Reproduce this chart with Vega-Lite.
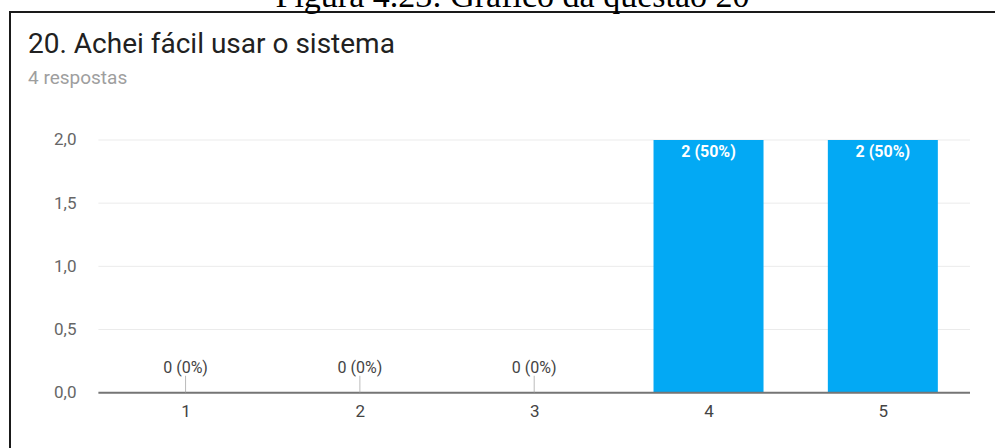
{
  "$schema": "https://vega.github.io/schema/vega-lite/v6.json",
  "width": 990,
  "height": 448,
  "autosize": {"type": "none"},
  "padding": {"left": 10, "top": 12, "right": -5, "bottom": -12},
  "background": "white",
  "config": {
    "view": {"stroke": "#1a1a1a", "strokeWidth": 2},
    "font": "Roboto"
  },
  "title": {
    "text": "20. Achei fácil usar o sistema",
    "subtitle": "4 respostas",
    "anchor": "start",
    "frame": "group",
    "orient": "top",
    "offset": -109,
    "dx": 18,
    "font": "Roboto",
    "fontSize": 28,
    "fontWeight": "normal",
    "color": "#212121",
    "subtitleFont": "Roboto",
    "subtitleFontSize": 19,
    "subtitleColor": "#9e9e9e",
    "subtitlePadding": 10
  },
  "datasets": {
    "respostas": [
      {"opcao": 1, "contagem": 0, "rotulo": "0 (0%)"},
      {"opcao": 2, "contagem": 0, "rotulo": "0 (0%)"},
      {"opcao": 3, "contagem": 0, "rotulo": "0 (0%)"},
      {"opcao": 4, "contagem": 2, "rotulo": "2 (50%)"},
      {"opcao": 5, "contagem": 2, "rotulo": "2 (50%)"}
    ],
    "grade": [
      {"valor": 0},
      {"valor": 0.5},
      {"valor": 1},
      {"valor": 1.5},
      {"valor": 2}
    ]
  },
  "resolve": {"axis": {"x": "independent", "y": "independent"}},
  "layer": [
    {
      "data": {"name": "grade"},
      "transform": [{"filter": "datum.valor > 0"}],
      "mark": {"type": "rule", "color": "#ebebeb", "strokeWidth": 1},
      "encoding": {
        "y": {"field": "valor", "type": "quantitative", "scale": {"domain": [-0.5327, 3.013], "nice": false, "zero": false}, "axis": null},
        "x": {"datum": 0.5, "type": "quantitative", "scale": {"domain": [0.0216, 5.6434], "nice": false, "zero": false}, "axis": null},
        "x2": {"datum": 5.5}
      }
    },
    {
      "data": {"name": "respostas"},
      "transform": [{"filter": "datum.contagem > 0"}],
      "mark": {"type": "bar", "size": 110, "color": "#03a9f4"},
      "encoding": {
        "x": {
          "field": "opcao", "type": "quantitative",
          "scale": {"domain": [0.0216, 5.6434], "nice": false, "zero": false},
          "axis": {
            "values": [1, 2, 3, 4, 5], "format": "d", "grid": false, "domain": false,
            "ticks": false, "tickSize": 0, "labelPadding": 0, "offset": -57,
            "labelFont": "Roboto", "labelFontSize": 17, "labelColor": "#444444", "title": null
          }
        },
        "y": {
          "field": "contagem", "type": "quantitative",
          "scale": {"domain": [-0.5327, 3.013], "nice": false, "zero": false},
          "axis": {
            "values": [0, 0.5, 1, 1.5, 2],
            "labelExpr": "replace(format(datum.value, '.1f'), '.', ',')",
            "grid": false, "domain": false, "ticks": false, "tickSize": 0,
            "labelPadding": 0, "offset": -66,
            "labelFont": "Roboto", "labelFontSize": 17, "labelColor": "#666666",
            "title": "Figura 4.23: Gráfico da questão 20",
            "titleAngle": 0, "titleX": 436, "titleY": -6,
            "titleAlign": "center", "titleBaseline": "alphabetic",
            "titleFont": "Liberation Serif", "titleFontSize": 34,
            "titleFontWeight": "normal", "titleColor": "#000000"
          }
        },
        "y2": {"datum": 0}
      }
    },
    {
      "data": {"name": "grade"},
      "transform": [{"filter": "datum.valor == 0"}],
      "mark": {"type": "rule", "color": "#757575", "strokeWidth": 2},
      "encoding": {
        "y": {"field": "valor", "type": "quantitative", "scale": {"domain": [-0.5327, 3.013], "nice": false, "zero": false}, "axis": null},
        "x": {"datum": 0.5, "type": "quantitative", "scale": {"domain": [0.0216, 5.6434], "nice": false, "zero": false}, "axis": null},
        "x2": {"datum": 5.5}
      }
    },
    {
      "data": {"name": "respostas"},
      "transform": [{"filter": "datum.contagem == 0"}],
      "mark": {"type": "tick", "orient": "vertical", "size": 17, "thickness": 1, "color": "#9e9e9e", "yOffset": -8.5},
      "encoding": {
        "x": {"field": "opcao", "type": "quantitative", "scale": {"domain": [0.0216, 5.6434], "nice": false, "zero": false}, "axis": null},
        "y": {"field": "contagem", "type": "quantitative", "scale": {"domain": [-0.5327, 3.013], "nice": false, "zero": false}, "axis": null}
      }
    },
    {
      "data": {"name": "respostas"},
      "transform": [{"filter": "datum.contagem == 0"}],
      "mark": {"type": "text", "dy": -25, "fontSize": 16, "font": "Roboto", "color": "#444444", "baseline": "middle"},
      "encoding": {
        "x": {"field": "opcao", "type": "quantitative", "scale": {"domain": [0.0216, 5.6434], "nice": false, "zero": false}, "axis": null},
        "y": {"field": "contagem", "type": "quantitative", "scale": {"domain": [-0.5327, 3.013], "nice": false, "zero": false}, "axis": null},
        "text": {"field": "rotulo"}
      }
    },
    {
      "data": {"name": "respostas"},
      "transform": [{"filter": "datum.contagem > 0"}],
      "mark": {"type": "text", "dy": 12, "fontSize": 16, "font": "Roboto", "fontWeight": "bold", "color": "white", "baseline": "middle"},
      "encoding": {
        "x": {"field": "opcao", "type": "quantitative", "scale": {"domain": [0.0216, 5.6434], "nice": false, "zero": false}, "axis": null},
        "y": {"field": "contagem", "type": "quantitative", "scale": {"domain": [-0.5327, 3.013], "nice": false, "zero": false}, "axis": null},
        "text": {"field": "rotulo"}
      }
    }
  ]
}
